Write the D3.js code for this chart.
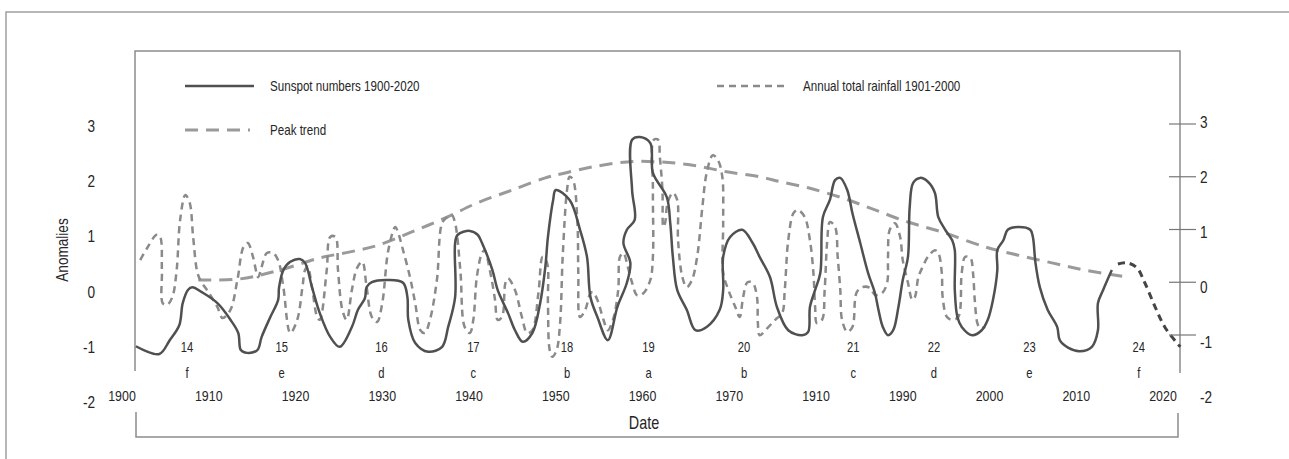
<!DOCTYPE html>
<html>
<head>
<meta charset="utf-8">
<script src="https://cdn.jsdelivr.net/npm/d3@7"></script>
<style>
  body { margin: 0; background: #fff; }
  text { font-family: "Liberation Sans", Arial, sans-serif; fill: #262626; }
</style>
</head>
<body>
<div id="chart"></div>
<script>
let w = 1289, h = 459;
let narrow = 0.8;   // horizontal squeeze to mimic the condensed face of the original

// sunspot numbers (anomalies)
let sunYear = [1901.6,1904.3,1905.5,1906.6,1907.0,1907.6,1908.1,1909.2,1911.0,1912.5,1913.4,1913.7,1914.4,1915.6,1916.1,1917.1,1918.0,1918.1,1918.6,1919.4,1920.5,1921.1,1921.9,1922.8,1924.0,1925.1,1926.5,1927.2,1928.0,1928.2,1928.8,1930.7,1932.4,1932.9,1933.0,1933.8,1935.3,1936.9,1937.6,1938.4,1938.4,1938.7,1940.1,1941.0,1941.5,1942.7,1943.3,1944.5,1945.3,1946.2,1947.3,1948.2,1948.8,1949.1,1949.7,1950.0,1951.6,1952.8,1953.6,1954.0,1954.8,1956.0,1957.1,1958.2,1958.6,1957.8,1958.2,1959.1,1958.8,1958.8,1959.7,1960.9,1961.2,1962.8,1963.2,1963.5,1964.0,1965.1,1966.1,1967.4,1968.9,1969.3,1969.3,1970.1,1971.5,1972.7,1973.5,1974.7,1975.5,1976.8,1978.4,1979.1,1979.3,1979.9,1980.5,1980.8,1981.6,1982.2,1982.8,1983.6,1984.2,1985.1,1986.0,1986.8,1987.2,1987.7,1988.3,1988.9,1989.5,1990.0,1990.6,1990.8,1991.2,1992.0,1992.9,1993.7,1994.1,1994.9,1995.7,1996.0,1996.0,1996.3,1996.8,1998.0,1999.1,1999.8,2000.4,2000.9,2000.9,2001.6,2002.1,2003.3,2004.7,2005.0,2005.3,2005.8,2006.7,2007.8,2008.1,2009.1,2010.4,2011.8,2012.5,2012.5,2013.1,2014.1];
let sunValue = [-0.99,-1.13,-0.88,-0.61,-0.21,0.03,0.08,-0.01,-0.21,-0.51,-0.75,-1.06,-1.11,-1.06,-0.82,-0.46,-0.15,0.07,0.39,0.54,0.59,0.52,0.08,-0.39,-0.82,-1.00,-0.64,-0.33,-0.12,0.08,0.17,0.21,0.16,-0.10,-0.51,-0.93,-1.09,-1.00,-0.64,-0.10,0.88,1.03,1.10,1.03,0.88,0.39,0.03,-0.39,-0.70,-0.91,-0.75,-0.21,0.45,0.99,1.66,1.84,1.66,1.12,0.63,-0.10,-0.46,-0.88,-0.28,0.16,0.52,0.88,1.12,1.30,1.84,2.75,2.80,2.69,2.15,1.71,1.24,0.63,0.03,-0.33,-0.70,-0.64,-0.33,0.03,0.63,0.99,1.12,0.88,0.63,0.26,-0.28,-0.70,-0.79,-0.73,-0.28,0.03,0.34,1.35,1.66,2.02,2.06,1.84,1.42,0.88,0.34,-0.03,-0.33,-0.64,-0.79,-0.70,-0.28,0.21,0.63,1.53,1.97,2.06,1.99,1.79,1.35,1.12,0.93,0.75,0.03,-0.46,-0.64,-0.79,-0.70,-0.51,-0.15,0.39,0.75,0.93,1.12,1.17,1.12,0.99,0.52,0.08,-0.33,-0.64,-0.88,-1.02,-1.08,-1.00,-0.70,-0.21,0.03,0.39];

// projected continuation
let forecastYear = [2014.8,2015.9,2017.0,2017.9,2019.1,2020.2,2021.6,2022.0];
let forecastValue = [0.50,0.52,0.43,0.16,-0.28,-0.64,-0.93,-1.00];

// annual total rainfall 1901-2000
let rainYear = [1902.1,1902.9,1904.0,1904.4,1904.6,1904.7,1905.2,1905.8,1906.3,1906.7,1907.3,1907.8,1908.2,1908.7,1909.2,1909.8,1911.0,1911.6,1912.5,1913.3,1914.0,1914.5,1915.1,1915.7,1916.1,1916.7,1917.4,1918.0,1918.6,1919.4,1920.2,1920.8,1921.1,1921.4,1921.9,1922.5,1922.8,1923.6,1924.0,1924.6,1924.9,1925.4,1925.9,1926.5,1927.1,1927.7,1928.2,1928.8,1929.4,1930.0,1930.7,1931.5,1931.8,1932.4,1933.2,1933.8,1934.4,1934.9,1935.5,1936.3,1936.9,1937.5,1938.0,1938.4,1939.0,1939.5,1940.1,1940.5,1940.9,1941.5,1941.8,1942.4,1943.0,1943.3,1943.8,1944.2,1944.5,1945.3,1946.1,1946.7,1947.3,1948.0,1948.5,1949.0,1949.1,1949.3,1949.6,1950.1,1950.5,1950.8,1951.3,1951.6,1952.0,1952.5,1952.6,1952.8,1953.4,1954.0,1954.3,1954.8,1955.5,1956.0,1956.6,1957.2,1957.4,1957.8,1958.3,1958.8,1959.4,1960.1,1960.9,1961.2,1961.2,1961.3,1961.8,1962.0,1962.3,1962.4,1962.6,1962.9,1963.5,1964.0,1964.1,1964.6,1965.1,1965.7,1966.3,1966.9,1967.4,1968.1,1968.7,1969.2,1969.3,1969.3,1969.9,1970.7,1971.2,1971.6,1972.1,1972.7,1973.2,1973.3,1973.5,1974.4,1975.3,1976.1,1976.4,1976.8,1977.4,1977.9,1978.7,1979.3,1979.7,1979.9,1980.1,1980.7,1981.0,1981.3,1981.6,1982.2,1982.5,1982.8,1983.0,1983.6,1984.2,1984.5,1984.7,1985.3,1986.2,1986.8,1987.6,1988.2,1988.3,1988.5,1989.1,1989.7,1990.0,1990.6,1991.1,1991.4,1991.8,1992.3,1992.9,1993.7,1994.1,1994.5,1994.6,1995.1,1995.7,1996.4,1996.8,1997.2,1997.8,1998.1,1998.3,1998.6,1998.9,1999.5];
let rainValue = [0.57,0.79,1.03,0.99,0.39,-0.21,-0.24,-0.10,0.39,1.30,1.75,1.61,0.99,0.34,0.16,0.03,-0.28,-0.48,-0.33,0.21,0.81,0.88,0.63,0.26,0.45,0.70,0.70,0.57,0.08,-0.75,-0.51,0.08,0.39,0.45,0.08,-0.46,-0.51,0.39,0.99,0.99,0.39,-0.33,-0.51,0.03,0.43,0.54,0.08,-0.46,-0.55,-0.21,0.75,1.17,1.08,0.75,0.26,-0.21,-0.70,-0.75,-0.51,0.21,1.24,1.35,1.39,1.24,0.39,-0.64,-0.75,-0.51,0.26,0.70,0.75,0.39,-0.15,-0.51,-0.46,0.16,0.24,0.03,-0.46,-0.75,-0.70,-0.03,0.63,0.52,-0.21,-1.06,-1.18,-1.06,-0.57,0.63,1.84,2.08,2.02,1.24,0.34,-0.46,-0.33,-0.03,-0.01,-0.15,-0.51,-0.70,-0.51,0.03,0.63,0.70,0.45,0.16,-0.07,-0.03,0.21,0.63,1.84,2.75,2.75,2.44,1.84,1.17,1.24,1.61,1.79,1.66,0.93,0.26,0.08,0.21,0.63,1.53,2.15,2.47,2.38,2.08,1.24,0.34,0.03,-0.28,-0.46,-0.10,0.17,0.16,-0.10,-0.57,-0.79,-0.66,-0.51,-0.39,0.03,0.93,1.42,1.48,1.35,0.93,0.34,-0.28,-0.57,-0.51,0.03,0.93,1.26,1.17,0.63,0.03,-0.51,-0.73,-0.64,-0.15,-0.01,0.08,0.07,-0.06,-0.03,0.16,0.63,1.12,1.24,0.99,0.57,0.16,-0.15,-0.10,0.26,0.45,0.63,0.75,0.70,0.34,-0.10,-0.46,-0.51,-0.46,0.34,0.63,0.61,0.34,-0.15,-0.57,-0.66,-0.64];

// peak trend
let trendYear = [1908.8,1913.6,1918.2,1922.8,1926.3,1929.5,1933.4,1937.2,1941.0,1945.0,1948.8,1951.1,1954.3,1958.2,1962.0,1965.8,1969.7,1973.5,1975.9,1979.1,1983.0,1986.8,1990.6,1994.5,1999.5,2003.3,2007.2,2011.0,2016.0];
let trendValue = [0.21,0.23,0.39,0.61,0.72,0.84,1.08,1.33,1.61,1.84,2.06,2.15,2.26,2.35,2.35,2.29,2.17,2.08,1.99,1.88,1.70,1.48,1.26,1.08,0.81,0.66,0.52,0.39,0.26];

let cycleNames = ["14","15","16","17","18","19","20","21","22","23","24"];
let cycleLetters = ["f","e","d","c","b","a","b","c","d","e","f"];
let cycleYears = [1907.5,1918.4,1929.9,1940.5,1951.3,1960.7,1971.7,1984.3,1993.6,2004.6,2017.2];

let yearTicks = [1900,1910,1920,1930,1940,1950,1960,1970,1980,1990,2000,2010,2020];
let yearLabels = ["1900","1910","1920","1930","1940","1950","1960","1970","1910","1990","2000","2010","2020"];
let valueTicks = [3,2,1,0,-1,-2];
let rightTicks = [3,2,1,0,-1];

let svg = d3.select("#chart").append("svg")
    .attr("width", w)
    .attr("height", h);

let xScale = d3.scaleLinear().domain([1900, 2020]).range([122, 1163]);
let yScale = d3.scaleLinear().domain([-2, 3]).range([402, 126]);
let yRight = d3.scaleLinear().domain([-1, 3]).range([335, 124]);
let yRightLabel = d3.scaleLinear().domain([-2, 3]).range([397, 122]);

let frameLeft = 135, frameRight = 1180, frameTop = 51;

function squeeze(x, y) {
    return "translate(" + x + "," + y + ") scale(" + narrow + ",1)";
}

// outer border (top and left only)
svg.append("path")
    .attr("d", "M6,459 V12 H1289")
    .attr("fill", "none")
    .attr("stroke", "#a0a0a0")
    .attr("stroke-width", 1.5);

// plot frame
svg.append("path")
    .attr("d", `M${frameLeft},371 V${frameTop} H${frameRight} V373`)
    .attr("fill", "none")
    .attr("stroke", "#8c8c8c")
    .attr("stroke-width", 1.5);

// date bracket
svg.append("path")
    .attr("d", "M136,412 V437 H1178 V413")
    .attr("fill", "none")
    .attr("stroke", "#8c8c8c")
    .attr("stroke-width", 1.5);

let line = d3.line()
    .x(d => xScale(d[0]))
    .y(d => yScale(d[1]))
    .curve(d3.curveCatmullRom.alpha(0.5));

svg.append("path")
    .datum(d3.zip(trendYear, trendValue))
    .attr("d", line)
    .attr("fill", "none")
    .attr("stroke", "#9a9a9a")
    .attr("stroke-width", 3)
    .attr("stroke-dasharray", "13,8");

svg.append("path")
    .datum(d3.zip(rainYear, rainValue))
    .attr("d", line)
    .attr("fill", "none")
    .attr("stroke", "#8a8a8a")
    .attr("stroke-width", 2.5)
    .attr("stroke-dasharray", "7,5");

svg.append("path")
    .datum(d3.zip(sunYear, sunValue))
    .attr("d", line)
    .attr("fill", "none")
    .attr("stroke", "#505050")
    .attr("stroke-width", 2.5);

svg.append("path")
    .datum(d3.zip(forecastYear, forecastValue))
    .attr("d", line)
    .attr("fill", "none")
    .attr("stroke", "#454545")
    .attr("stroke-width", 3)
    .attr("stroke-dasharray", "7,5");

// left value labels
svg.selectAll(".ylab")
    .data(valueTicks)
    .enter()
    .append("text")
    .attr("class", "ylab")
    .attr("transform", d => squeeze(95, yScale(d)))
    .attr("dy", "0.35em")
    .attr("text-anchor", "end")
    .style("font-size", "17px")
    .text(d => d);

svg.append("text")
    .attr("transform", "translate(68,250) rotate(-90) scale(" + narrow + ",1)")
    .attr("text-anchor", "middle")
    .style("font-size", "17px")
    .text("Anomalies");

// right axis
svg.selectAll(".rtick")
    .data(rightTicks)
    .enter()
    .append("line")
    .attr("class", "rtick")
    .attr("x1", 1169)
    .attr("x2", 1196)
    .attr("y1", d => yRight(d))
    .attr("y2", d => yRight(d))
    .attr("stroke", "#777")
    .attr("stroke-width", 1.2);

svg.selectAll(".rlab")
    .data(valueTicks)
    .enter()
    .append("text")
    .attr("class", "rlab")
    .attr("transform", d => squeeze(1200, yRightLabel(d)))
    .attr("dy", "0.35em")
    .style("font-size", "17px")
    .text(d => d);

// cycle numbers, letters and years
svg.selectAll(".cyc")
    .data(cycleYears)
    .enter()
    .append("text")
    .attr("class", "cyc")
    .attr("transform", d => squeeze(xScale(d), 347))
    .attr("dy", "0.35em")
    .attr("text-anchor", "middle")
    .style("font-size", "14px")
    .text((d, i) => cycleNames[i]);

svg.selectAll(".let")
    .data(cycleYears)
    .enter()
    .append("text")
    .attr("class", "let")
    .attr("transform", d => squeeze(xScale(d), 373))
    .attr("dy", "0.35em")
    .attr("text-anchor", "middle")
    .style("font-size", "14px")
    .text((d, i) => cycleLetters[i]);

svg.selectAll(".xlab")
    .data(yearTicks)
    .enter()
    .append("text")
    .attr("class", "xlab")
    .attr("transform", d => squeeze(xScale(d), 396))
    .attr("dy", "0.35em")
    .attr("text-anchor", "middle")
    .style("font-size", "15.5px")
    .text((d, i) => yearLabels[i]);

svg.append("text")
    .attr("transform", squeeze(644, 423))
    .attr("dy", "0.35em")
    .attr("text-anchor", "middle")
    .style("font-size", "18px")
    .text("Date");

// legend
let legend = [
    {label: "Sunspot numbers 1900-2020", x: 185, y: 86, len: 69, color: "#505050", width: 2.5, dash: null},
    {label: "Peak trend", x: 185, y: 130, len: 65, color: "#9a9a9a", width: 3, dash: "13,8"},
    {label: "Annual total rainfall 1901-2000", x: 717, y: 86, len: 68, color: "#8a8a8a", width: 2.5, dash: "7,5"}
];
let lg = svg.selectAll(".legend")
    .data(legend)
    .enter()
    .append("g")
    .attr("class", "legend");
lg.append("line")
    .attr("x1", d => d.x)
    .attr("x2", d => d.x + d.len)
    .attr("y1", d => d.y)
    .attr("y2", d => d.y)
    .attr("stroke", d => d.color)
    .attr("stroke-width", d => d.width)
    .attr("stroke-dasharray", d => d.dash);
lg.append("text")
    .attr("transform", d => squeeze(d.x + (d.x > 500 ? 86 : 85), d.y))
    .attr("dy", "0.35em")
    .style("font-size", "14.5px")
    .text(d => d.label);
</script>
</body>
</html>
